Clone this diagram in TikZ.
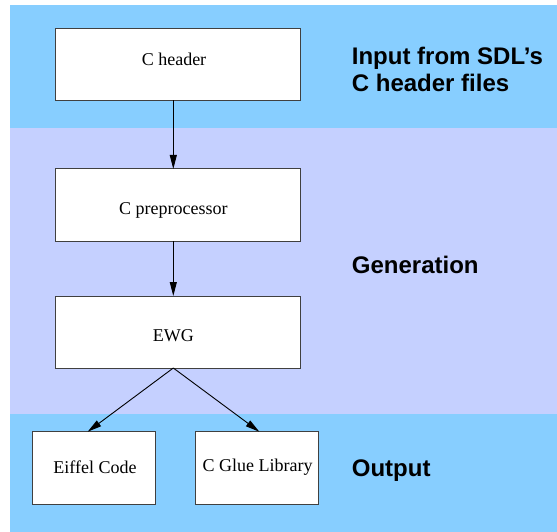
\documentclass[tikz,border=0pt]{standalone}
\usepackage{fontspec}
\setmainfont{Liberation Serif}
\newfontfamily\labfont{Liberation Sans}
\usetikzlibrary{arrows.meta}
\definecolor{bandblue}{RGB}{135,206,255}
\definecolor{bandlav}{RGB}{197,208,255}
\definecolor{boxline}{RGB}{64,64,64}
\begin{document}
\begin{tikzpicture}[x=1pt,y=-1pt,
  box/.style={draw=boxline,line width=1pt,fill=white,inner sep=0pt},
  boxtext/.style={anchor=base,inner sep=0pt,font=\fontsize{18}{20}\selectfont},
  bandlabel/.style={anchor=base west,inner sep=0pt,font=\fontsize{24}{27.4}\selectfont\labfont\bfseries,align=left},
  flow/.style={line width=0.9pt,-{Triangle[length=14pt,width=7pt]}}]
\useasboundingbox (0,0) rectangle (557,532);
% bands
\fill[bandblue] (10,5) rectangle (557,127.7);
\fill[bandlav] (10,127.7) rectangle (557,414);
\fill[bandblue] (10,414) rectangle (557,532);
% boxes
\node[box,minimum width=245.4pt,minimum height=72.4pt] (hdr) at (178,64.3) {};
\node[box,minimum width=245.4pt,minimum height=72pt] (pre) at (178,205) {};
\node[box,minimum width=245.4pt,minimum height=72pt] (ewg) at (178,332) {};
\node[box,minimum width=122.6pt,minimum height=73pt] (eif) at (94,468.2) {};
\node[box,minimum width=122.7pt,minimum height=73pt] (glue) at (257.3,468.2) {};
% box texts
\node[boxtext] (thdr) at (174,65.5) {C header};
\node[boxtext] (tpre) at (173.3,214.3) {C preprocessor};
\node[boxtext] (tewg) at (173.3,341) {EWG};
\node[boxtext] (teif) at (95,473.3) {Eiffel Code};
\node[boxtext] (tglue) at (257.7,471.7) {C Glue Library};
% band labels
\node[bandlabel] (linput) at (351.7,91.7) {Input from SDL’s\\C header files};
\node[bandlabel] (lgen) at (351.7,273.3) {Generation};
\node[bandlabel] (lout) at (351.7,476.7) {Output};
% connectors
\coordinate (a1) at (173.3,100.5);
\coordinate (a2) at (173.3,169);
\coordinate (b1) at (173.3,241);
\coordinate (b2) at (173.3,296);
\coordinate (c1) at (173.3,368);
\coordinate (c2) at (87.7,431.7);
\coordinate (c3) at (259.3,431.7);
\draw[flow] (a1) -- (a2);
\draw[flow] (b1) -- (b2);
\draw[flow] (c1) -- (c2);
\draw[flow] (c1) -- (c3);
\end{tikzpicture}
\end{document}
